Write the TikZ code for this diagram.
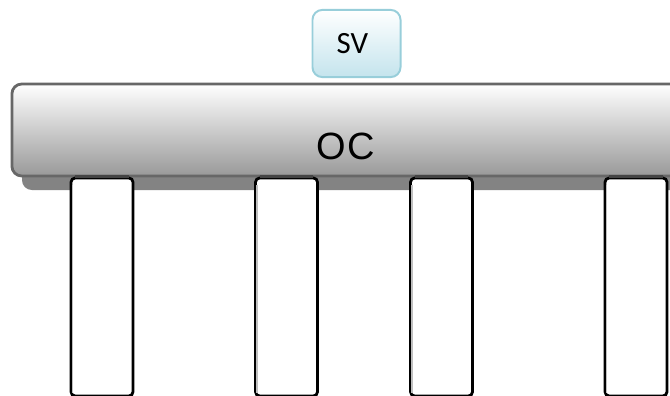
\documentclass[tikz,border=0pt]{standalone}
\usepackage{fontspec}
\setmainfont{Carlito}
\newfontfamily\ocfont{Liberation Sans}
\usepackage{tikz}
\usetikzlibrary{calc}
\usepackage{xcolor}
\definecolor{SvBorder}{HTML}{98CEDA}
\definecolor{SvFill}{HTML}{C4E4ED}
\definecolor{BarBorder}{HTML}{676767}
\definecolor{BarBottom}{HTML}{999999}
\definecolor{BarShadow}{HTML}{838383}
\definecolor{LegTop}{HTML}{444444}

\begin{document}
\begin{tikzpicture}[x=0.025cm,y=-0.025cm,
    svbox/.style={draw=SvBorder,line width=1.4pt,rounded corners=7pt,
      top color=white,bottom color=SvFill,minimum width=2.2cm,minimum height=1.68cm,
      font=\fontsize{22}{24}\selectfont},
    barbox/.style={draw=BarBorder,line width=2pt,rounded corners=7pt,
      top color=white,bottom color=BarBottom,minimum width=16.7cm,minimum height=2.3cm},
    legbox/.style={draw=black,line width=2pt,rounded corners=3pt,fill=white,
      minimum width=1.55cm,minimum height=5.45cm}]
    \useasboundingbox (0,0) rectangle (670,395);
    \clip (0,0) rectangle (670,395);

    \fill[BarShadow,rounded corners=7pt] (22,110) rectangle (690,190);
    \node[barbox] (bar) at (346,130) {};
    \node[font=\ocfont\fontsize{27}{29}\selectfont] (oc) at (346,146) {O\kern1pt C};

    \node[svbox] (sv) at (356.5,43.5) {\kern-6pt SV};

    \foreach \i/\x in {1/102,2/286.5,3/441.5,4/636} {
     \node[legbox] (leg\i) at (\x,287) {};
     \draw[LegTop,line width=2pt] ([xshift=4pt]leg\i.north west) -- ([xshift=-4pt]leg\i.north east);
     \draw[black!25,line width=1.2pt] ([xshift=2pt,yshift=-6pt]leg\i.north west) -- ([xshift=2pt,yshift=3pt]leg\i.south west);
    }
\end{tikzpicture}
\end{document}
